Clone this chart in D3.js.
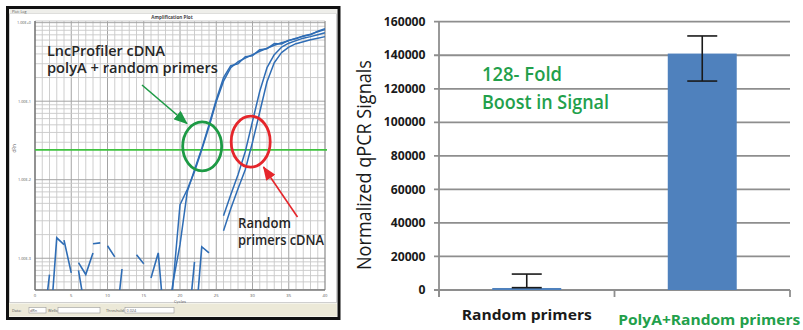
<!DOCTYPE html>
<html><head><meta charset="utf-8">
<script src="https://cdn.jsdelivr.net/npm/d3@7"></script>
<style>html,body{margin:0;padding:0;background:#fff;} svg{display:block;}</style>
</head><body>
<svg id="chart" width="803" height="330"></svg>
<script>
// ================= DATA =================
// Left: amplification plot, fluorescence (dRn, log scale) per PCR cycle
const ampXTicks = [0, 5, 10, 15, 20, 25, 30, 35, 40];
const ampYDecades = [1e-3, 1e-2, 1e-1, 1];
const ampYLabels = ["1.00E-3", "1.00E-2", "1.00E-1", "1.00E+0"];
const threshold = 0.024;

const polyAStartCycle = 18;   // LncProfiler cDNA, polyA + random primers (2 wells)
const polyA1 = [1e-4, 4.2e-4, 4.8e-3, 7.5e-3, 0.0126, 0.0241, 0.0473, 0.0986, 0.180, 0.267, 0.318,
                0.353, 0.391, 0.433, 0.473, 0.516, 0.556, 0.590, 0.635, 0.673, 0.714, 0.768, 0.815];
const polyA2 = [1e-4, 4.7e-4, 1.49e-3, 7.0e-3, 0.0134, 0.0249, 0.0502, 0.1045, 0.199, 0.283, 0.300,
                0.369, 0.380, 0.453, 0.466, 0.541, 0.534, 0.598, 0.622, 0.678, 0.700, 0.780, 0.840];

const randomStartCycle = 26;  // random primers cDNA (2 wells)
const random1 = [3.48e-3, 6.44e-3, 0.0116, 0.0227, 0.0553, 0.134, 0.267, 0.391, 0.487, 0.548,
                 0.590, 0.635, 0.664, 0.703, 0.746];
const random2 = [2.24e-3, 4.28e-3, 7.68e-3, 0.0134, 0.030, 0.0728, 0.177, 0.309, 0.415, 0.487,
                 0.540, 0.573, 0.607, 0.635, 0.664];

// baseline noise traces, cycles 0..24 (null = negative / not plotted on log axis)
const noise1 = [null,1e-4,6.2e-4,null,null,null,8.8e-4,6.2e-4,1.17e-3,null,null,null,null,null,1.11e-3,8.5e-4,null,null,null,null,null,null,null,null,null];
const noise2 = [null,null,1e-4,1.82e-3,1.49e-3,null,null,null,1.53e-3,1.57e-3,null,null,null,null,null,null,null,null,null,null,null,null,null,null,null];
const noise3 = [null,null,null,null,1.7e-3,6.5e-4,null,null,null,null,1.44e-3,1.04e-3,null,null,null,null,5.6e-4,1.17e-3,1e-4,null,null,null,null,null,null];
const noise4 = [null,null,null,null,null,null,7e-4,2e-4,null,null,null,1e-4,7.3e-4,null,null,null,null,null,null,null,null,1e-4,9e-4,null,null];
const noise5 = [null,null,null,null,null,null,null,null,null,null,null,null,null,null,null,null,null,null,null,null,null,null,1e-4,1.4e-3,1.17e-3];

// Right: bar chart
const barCategories = ["Random primers", "PolyA+Random primers"];
const barValues = [1200, 141000];
const barErrLower = [1400, 124600];
const barErrUpper = [9500, 151500];
const barYMax = 160000;

// ================= DRAW =================
const svg = d3.select("#chart");
const FONT = "'Open Sans','Liberation Sans',sans-serif";
const BLUE = "#2f6db5";

// ---------- LEFT PANEL (screenshot of amplification plot) ----------
const L = {x0: 35, x1: 325, y0: 21, y1: 290};
svg.append("rect").attr("x", 7.5).attr("y", 7.5).attr("width", 331.5).attr("height", 311)
  .attr("fill", "#fdfdfd").attr("stroke", "#111").attr("stroke-width", 3);
svg.append("rect").attr("x", 9.5).attr("y", 13.5).attr("width", 327).attr("height", 289)
  .attr("fill", "#fff").attr("stroke", "#cfcfcf").attr("stroke-width", 1);
svg.append("rect").attr("x", 9).attr("y", 9).attr("width", 328).attr("height", 4.5).attr("fill", "#eeeeea");
svg.append("text").attr("x", 12).attr("y", 12.6).attr("font-size", 3.6).attr("fill", "#555")
  .attr("font-family", FONT).text("Plot: Log");
svg.append("text").attr("x", 172).attr("y", 19).attr("font-size", 4.6).attr("fill", "#444")
  .attr("text-anchor", "middle").attr("font-family", FONT).attr("font-weight", 700).text("Amplification Plot");

const xA = d3.scaleLinear().domain([0, 40]).range([L.x0, L.x1]);
const yA = d3.scaleLog().domain([3.94e-4, 1.05]).range([L.y1, L.y0]);

svg.append("rect").attr("x", L.x0).attr("y", L.y0).attr("width", L.x1 - L.x0).attr("height", L.y1 - L.y0).attr("fill", "#fff");

const gGrid = svg.append("g");
d3.range(1, 40).forEach(c => {
  gGrid.append("line").attr("x1", xA(c)).attr("x2", xA(c)).attr("y1", L.y0).attr("y2", L.y1)
    .attr("stroke", c % 5 === 0 ? "#a4a4a4" : "#c8c8c8").attr("stroke-width", c % 5 === 0 ? 1 : 0.9);
});
const [dmin, dmax] = yA.domain();
for (let e = -4; e <= 0; e++) {
  for (let k = 1; k <= 9; k++) {
    const v = k * Math.pow(10, e);
    if (v < dmin || v > dmax) continue;
    gGrid.append("line").attr("x1", L.x0).attr("x2", L.x1).attr("y1", yA(v)).attr("y2", yA(v))
      .attr("stroke", k === 1 ? "#a4a4a4" : "#c8c8c8").attr("stroke-width", k === 1 ? 1 : 0.9);
  }
}
svg.append("line").attr("x1", L.x1).attr("x2", L.x1).attr("y1", L.y0).attr("y2", L.y1).attr("stroke", "#8a8a8a").attr("stroke-width", 1.2);
svg.append("line").attr("x1", L.x0).attr("x2", L.x1).attr("y1", L.y0).attr("y2", L.y0).attr("stroke", "#bdbdbd").attr("stroke-width", 0.8);
svg.append("line").attr("x1", L.x0).attr("x2", L.x0).attr("y1", L.y0).attr("y2", L.y1).attr("stroke", "#777").attr("stroke-width", 1.6);
svg.append("line").attr("x1", L.x0).attr("x2", L.x1).attr("y1", L.y1).attr("y2", L.y1).attr("stroke", "#777").attr("stroke-width", 1.6);

ampXTicks.forEach(t => {
  svg.append("text").attr("x", xA(t)).attr("y", 297).attr("font-size", 4.2).attr("fill", "#555")
    .attr("text-anchor", "middle").attr("font-family", FONT).text(t);
});
ampYDecades.forEach((d, i) => {
  svg.append("text").attr("x", 31).attr("y", yA(d) + 1.4).attr("font-size", 3.8).attr("fill", "#555")
    .attr("text-anchor", "end").attr("font-family", FONT).text(ampYLabels[i]);
});
svg.append("text").attr("x", xA(20)).attr("y", 302.5).attr("font-size", 4.2).attr("fill", "#555")
  .attr("text-anchor", "middle").attr("font-family", FONT).text("Cycles");
svg.append("text").attr("transform", `translate(15.5,${yA(0.025)}) rotate(-90)`).attr("font-size", 4.5).attr("fill", "#555")
  .attr("text-anchor", "middle").attr("font-family", FONT).text("dRn");

svg.append("defs").append("clipPath").attr("id", "ampClip")
  .append("rect").attr("x", L.x0).attr("y", L.y0).attr("width", L.x1 - L.x0 + 2).attr("height", L.y1 - L.y0);
const gCurves = svg.append("g").attr("clip-path", "url(#ampClip)");

gCurves.append("line").attr("x1", L.x0).attr("x2", L.x1 + 2).attr("y1", yA(threshold)).attr("y2", yA(threshold))
  .attr("stroke", "#3fc23f").attr("stroke-width", 1.6);

const lineGen = (start) => d3.line()
  .defined(d => d != null)
  .x((d, i) => xA(start + i))
  .y(d => yA(d));

[noise1, noise2, noise3, noise4, noise5].forEach(n => {
  gCurves.append("path").attr("d", lineGen(0)(n)).attr("fill", "none")
    .attr("stroke", BLUE).attr("stroke-width", 1.6);
});
[[polyA1, polyAStartCycle], [polyA2, polyAStartCycle], [random1, randomStartCycle], [random2, randomStartCycle]]
  .forEach(([arr, s]) => {
    gCurves.append("path").attr("d", lineGen(s)(arr)).attr("fill", "none")
      .attr("stroke", BLUE).attr("stroke-width", 1.5).attr("stroke-linejoin", "round");
  });

svg.append("ellipse").attr("cx", xA(23.06)).attr("cy", yA(0.0266)).attr("rx", 19.5).attr("ry", 24.5)
  .attr("fill", "none").attr("stroke", "#1d9a45").attr("stroke-width", 2.8);
svg.append("ellipse").attr("cx", xA(29.75)).attr("cy", yA(0.0305)).attr("rx", 19.5).attr("ry", 25.5)
  .attr("fill", "none").attr("stroke", "#e5262b").attr("stroke-width", 2.8);

const defs = svg.select("defs");
[["arrG", "#1d9a45"], ["arrR", "#e5262b"]].forEach(([id, col]) => {
  defs.append("marker").attr("id", id).attr("markerUnits", "userSpaceOnUse")
    .attr("markerWidth", 14).attr("markerHeight", 11).attr("refX", 13).attr("refY", 5.5).attr("orient", "auto")
    .append("path").attr("d", "M0,0 L14,5.5 L0,11 z").attr("fill", col);
});
svg.append("line").attr("x1", 142).attr("y1", 85).attr("x2", 187).attr("y2", 123.5)
  .attr("stroke", "#1d9a45").attr("stroke-width", 1.6).attr("marker-end", "url(#arrG)");
svg.append("line").attr("x1", 297.5).attr("y1", 217).attr("x2", 263.5).attr("y2", 167)
  .attr("stroke", "#e5262b").attr("stroke-width", 1.6).attr("marker-end", "url(#arrR)");

// two-line annotation blocks (one text element each, lines as tspans)
const annBlock = (x, y, lineGap, lines) => {
  const t = svg.append("text").attr("x", x).attr("y", y)
    .attr("font-family", FONT).attr("font-size", 15).attr("font-weight", 600).attr("fill", "#262626");
  lines.forEach(([str, len], i) => {
    t.append("tspan").attr("x", x).attr("y", y + i * lineGap)
      .attr("textLength", len).attr("lengthAdjust", "spacingAndGlyphs").text(str);
  });
};
annBlock(47, 56, 16.5, [["LncProfiler cDNA", 118], ["polyA + random primers", 171]]);
annBlock(238, 227.5, 17.5, [["Random", 53], ["primers cDNA", 86]]);

svg.append("rect").attr("x", 9).attr("y", 303.5).attr("width", 328).attr("height", 13).attr("fill", "#ece9d8");
const tb = (x, str) => svg.append("text").attr("x", x).attr("y", 311.5).attr("font-size", 3.8)
  .attr("fill", "#555").attr("font-family", FONT).text(str);
tb(12, "Data:");
svg.append("rect").attr("x", 29).attr("y", 307.5).attr("width", 17).attr("height", 5.5).attr("fill", "#fff").attr("stroke", "#9a9a9a").attr("stroke-width", 0.6);
tb(30, "dRn");
tb(48, "Wells:");
svg.append("rect").attr("x", 58).attr("y", 307.5).attr("width", 42).attr("height", 5.5).attr("fill", "#fff").attr("stroke", "#9a9a9a").attr("stroke-width", 0.6);
tb(106, "Threshold:");
svg.append("rect").attr("x", 125).attr("y", 307.5).attr("width", 49).attr("height", 5.5).attr("fill", "#fff").attr("stroke", "#9a9a9a").attr("stroke-width", 0.6);
tb(126.5, String(threshold));

// ---------- RIGHT PANEL (bar chart) ----------
const R = {x0: 439, x1: 790, y0: 21.7, y1: 290};
const yB = d3.scaleLinear().domain([0, barYMax]).range([R.y1, R.y0]);
const xB = d3.scaleBand().domain(barCategories).range([R.x0, R.x1]).paddingInner(0.607).paddingOuter(0.3035);
const GRID = "#8e8e8e";

yB.ticks(8).forEach(t => {
  svg.append("line").attr("x1", R.x0 - 5).attr("x2", R.x1).attr("y1", yB(t)).attr("y2", yB(t))
    .attr("stroke", GRID).attr("stroke-width", 1.8);
  svg.append("text").attr("x", 425.5).attr("y", yB(t)).attr("dy", "0.36em").attr("text-anchor", "end")
    .attr("font-family", FONT).attr("font-weight", 700).attr("font-size", 11.5).attr("fill", "#1a1a1a")
    .attr("textLength", d3.format("d")(t).length * 6.95).attr("lengthAdjust", "spacingAndGlyphs")
    .text(d3.format("d")(t));
});
svg.append("line").attr("x1", R.x0).attr("x2", R.x0).attr("y1", R.y0).attr("y2", R.y1 + 7)
  .attr("stroke", GRID).attr("stroke-width", 1.8);
[0, 1, 2].forEach(i => {
  const bx = R.x0 + i * xB.step();
  svg.append("line").attr("x1", bx).attr("x2", bx).attr("y1", R.y1).attr("y2", R.y1 + 7)
    .attr("stroke", GRID).attr("stroke-width", 1.8);
});

svg.selectAll("rect.bar").data(barValues).join("rect").attr("class", "bar")
  .attr("x", (d, i) => xB(barCategories[i])).attr("width", xB.bandwidth())
  .attr("y", d => yB(d)).attr("height", d => R.y1 - yB(d))
  .attr("fill", "#4f81bd");

barValues.forEach((v, i) => {
  const cx = xB(barCategories[i]) + xB.bandwidth() / 2;
  const g = svg.append("g").attr("stroke", "#1a1a1a").attr("stroke-width", 1.6);
  g.append("line").attr("x1", cx).attr("x2", cx).attr("y1", yB(barErrLower[i])).attr("y2", yB(barErrUpper[i]));
  [barErrLower[i], barErrUpper[i]].forEach(e => {
    g.append("line").attr("x1", cx - 15).attr("x2", cx + 15).attr("y1", yB(e)).attr("y2", yB(e));
  });
});

svg.append("text").attr("x", xB(barCategories[0]) + xB.bandwidth() / 2).attr("y", 320)
  .attr("text-anchor", "middle").attr("font-family", FONT).attr("font-weight", 700).attr("font-size", 14.5)
  .attr("fill", "#1a1a1a").attr("textLength", 130).attr("lengthAdjust", "spacingAndGlyphs").text(barCategories[0]);
svg.append("text").attr("x", xB(barCategories[1]) + xB.bandwidth() / 2 + 7).attr("y", 325)
  .attr("text-anchor", "middle").attr("font-family", FONT).attr("font-weight", 700).attr("font-size", 14.5)
  .attr("fill", "#22a04b").attr("textLength", 182).attr("lengthAdjust", "spacingAndGlyphs").text(barCategories[1]);

svg.append("text").attr("transform", "translate(370.5,165) rotate(-90)").attr("text-anchor", "middle")
  .attr("font-family", FONT).attr("font-size", 19.5).attr("font-weight", 500).attr("fill", "#1a1a1a")
  .attr("textLength", 210).attr("lengthAdjust", "spacingAndGlyphs").text("Normalized qPCR Signals");

const foldText = (y, str, len) => svg.append("text").attr("x", 482).attr("y", y)
  .attr("font-family", FONT).attr("font-size", 19).attr("font-weight", 600).attr("fill", "#22a04b")
  .attr("textLength", len).attr("lengthAdjust", "spacingAndGlyphs").text(str);
foldText(81, "128- Fold", 80);
foldText(108.5, "Boost in Signal", 127);
</script>
</body></html>
